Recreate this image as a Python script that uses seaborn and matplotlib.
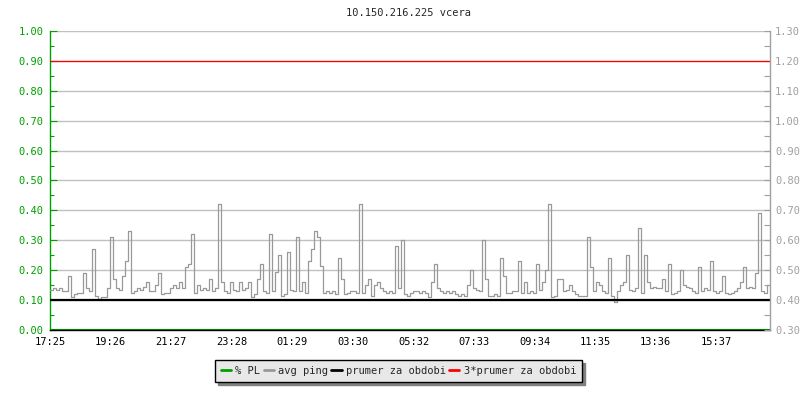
import numpy as np
import pandas as pd
import seaborn as sns
import matplotlib.pyplot as plt
from matplotlib.ticker import MultipleLocator, FormatStrFormatter

# ---------- data ----------
title = "10.150.216.225 vcera"
step_min = 6  # one sample every 6 minutes, 24 h window starting 17:25

avg_ping = [
    # 17:25 - 22:13
    0.435, 0.44, 0.435, 0.44, 0.43, 0.43, 0.48, 0.412, 0.42, 0.425, 0.425, 0.49,
    0.44, 0.43, 0.57, 0.415, 0.405, 0.41, 0.41, 0.44, 0.61, 0.47, 0.44, 0.435,
    0.48, 0.53, 0.63, 0.425, 0.43, 0.44, 0.435, 0.445, 0.46, 0.43, 0.43, 0.45,
    0.49, 0.42, 0.425, 0.425, 0.44, 0.45, 0.44, 0.46, 0.44, 0.51, 0.52, 0.62,
    # 22:13 - 03:01
    0.423, 0.45, 0.435, 0.44, 0.435, 0.47, 0.43, 0.44, 0.72, 0.46, 0.43, 0.425,
    0.46, 0.435, 0.43, 0.46, 0.435, 0.44, 0.46, 0.41, 0.42, 0.47, 0.52, 0.43,
    0.425, 0.62, 0.43, 0.495, 0.55, 0.415, 0.42, 0.56, 0.435, 0.43, 0.61, 0.43,
    0.46, 0.425, 0.53, 0.57, 0.63, 0.61, 0.515, 0.425, 0.43, 0.425, 0.43, 0.42,
    # 03:01 - 07:49
    0.54, 0.47, 0.42, 0.425, 0.43, 0.43, 0.425, 0.72, 0.425, 0.45, 0.47, 0.415,
    0.45, 0.46, 0.44, 0.43, 0.425, 0.43, 0.425, 0.58, 0.44, 0.60, 0.42, 0.415,
    0.425, 0.43, 0.43, 0.425, 0.43, 0.425, 0.41, 0.46, 0.52, 0.44, 0.43, 0.425,
    0.43, 0.425, 0.43, 0.42, 0.415, 0.42, 0.415, 0.45, 0.50, 0.44, 0.435, 0.43,
    # 07:49 - 12:37
    0.60, 0.47, 0.415, 0.415, 0.42, 0.415, 0.54, 0.48, 0.425, 0.425, 0.43, 0.43,
    0.53, 0.425, 0.46, 0.425, 0.43, 0.425, 0.52, 0.435, 0.46, 0.50, 0.72, 0.41,
    0.415, 0.47, 0.47, 0.43, 0.435, 0.45, 0.43, 0.42, 0.415, 0.415, 0.415, 0.61,
    0.51, 0.43, 0.46, 0.45, 0.43, 0.425, 0.54, 0.415, 0.395, 0.43, 0.45, 0.46,
    # 12:37 - 17:25
    0.55, 0.435, 0.43, 0.44, 0.64, 0.425, 0.55, 0.46, 0.44, 0.445, 0.44, 0.44,
    0.47, 0.43, 0.52, 0.42, 0.425, 0.43, 0.50, 0.45, 0.445, 0.44, 0.43, 0.425,
    0.51, 0.43, 0.44, 0.435, 0.53, 0.43, 0.425, 0.43, 0.48, 0.425, 0.42, 0.425,
    0.43, 0.44, 0.46, 0.51, 0.44, 0.445, 0.44, 0.49, 0.69, 0.43, 0.425, 0.45,
]
packet_loss = [0.0] * len(avg_ping)  # % PL stays at zero the whole day
period_mean = 0.40
period_mean_x3 = 1.20

x_labels = ["17:25", "19:26", "21:27", "23:28", "01:29", "03:30",
            "05:32", "07:33", "09:34", "11:35", "13:36", "15:37"]

# ---------- style ----------
sns.set_style("white")
plt.rcParams["font.family"] = ["DejaVu Sans Mono"]
plt.rcParams["font.size"] = 7.5

green = "#00a000"
grey_axis = "#a0a0a0"
grey_line = "#999999"

minutes = np.arange(len(avg_ping)) * step_min
df = pd.DataFrame({
    "minute": np.append(minutes, 1440),
    "ping": avg_ping + [avg_ping[-1]],
    "pl": packet_loss + [packet_loss[-1]],
})

def to_minutes(label):
    h, m = map(int, label.split(":"))
    return ((h * 60 + m) - (17 * 60 + 25)) % 1440

fig = plt.figure(figsize=(8, 4), dpi=100)
ax = fig.add_axes([50.3 / 800, 70 / 400, 720 / 800, 299 / 400])
ax2 = ax.twinx()

# left axis: % PL
sns.lineplot(data=df, x="minute", y="pl", ax=ax, color=green, lw=1.5,
             drawstyle="steps-post", estimator=None, label="% PL")
ax.set_ylim(0, 1.0)
ax.set_xlim(0, 1440)
ax.yaxis.set_major_locator(MultipleLocator(0.1))
ax.yaxis.set_minor_locator(MultipleLocator(0.05))
ax.yaxis.set_major_formatter(FormatStrFormatter("%.2f"))
ax.grid(axis="y", color="#c0c0c0", lw=1.0)
ax.set_axisbelow(True)
ax.set_xticks([to_minutes(s) for s in x_labels])
ax.set_xticklabels(x_labels)
ax.set(xlabel=None, ylabel=None)

# right axis: ping and its mean lines
sns.lineplot(data=df, x="minute", y="ping", ax=ax2, color=grey_line, lw=0.9,
             drawstyle="steps-post", estimator=None, label="avg ping")
ax2.axhline(period_mean, color="black", lw=1.6, label="prumer za obdobi")
ax2.axhline(period_mean_x3, color="#ff0000", lw=0.9, label="3*prumer za obdobi")
ax2.set_ylim(0.30, 1.30)
ax2.yaxis.set_major_locator(MultipleLocator(0.1))
ax2.yaxis.set_minor_locator(MultipleLocator(0.05))
ax2.yaxis.set_major_formatter(FormatStrFormatter("%.2f"))
ax2.set(ylabel=None)

# spines and ticks
for a in (ax, ax2):
    for s in a.spines.values():
        s.set_visible(False)
ax.spines["left"].set_visible(True)
ax.spines["left"].set_color(green)
ax.spines["left"].set_linewidth(1.0)
ax.spines["bottom"].set_visible(True)
ax.spines["bottom"].set_color("black")
ax.spines["bottom"].set_linewidth(1.0)
ax2.spines["right"].set_visible(True)
ax2.spines["right"].set_color(grey_axis)
ax2.spines["right"].set_linewidth(1.0)

ax.tick_params(axis="y", which="major", direction="in", length=5, width=0.8,
               color=green, labelcolor=green, pad=5, labelsize=7.5)
ax.tick_params(axis="y", which="minor", direction="in", length=3, width=0.8,
               color=green)
ax.tick_params(axis="x", which="major", direction="in", length=5, width=0.8,
               color="black", labelcolor="black", pad=5, labelsize=7.5)
ax2.tick_params(axis="y", which="both", direction="in", length=4, width=0.8,
                color=grey_axis, labelcolor=grey_axis, pad=3.5, labelsize=7.5)

# legend below plot
h1, l1 = ax.get_legend_handles_labels()
h2, l2 = ax2.get_legend_handles_labels()
ax.get_legend().remove()
ax2.get_legend().remove()
leg = fig.legend(h1 + h2, l1 + l2, loc="center", bbox_to_anchor=(0.498, 0.0725),
                 ncol=4, fontsize=7.5, handlelength=1.0, handletextpad=0.4,
                 columnspacing=0.3, fancybox=False, framealpha=1,
                 facecolor="#e8e8e8", edgecolor="black", borderpad=0.55,
                 borderaxespad=0.3,
                 shadow={"color": "#808080", "alpha": 1})
leg.get_frame().set_linewidth(1.0)
for line in leg.get_lines():
    line.set_linewidth(2.0)

fig.text(409 / 800, 1 - 13 / 400, title, ha="center", va="center", fontsize=7.5)

fig.savefig("out.png", dpi=100)
